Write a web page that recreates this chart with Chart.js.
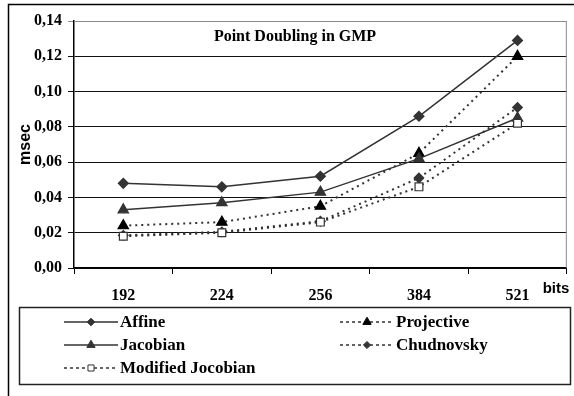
<!DOCTYPE html>
<html>
<head>
<meta charset="utf-8">
<script src="https://cdn.jsdelivr.net/npm/chart.js@4"></script>
<style>
  html, body { margin: 0; padding: 0; background: #fff; }
  #wrap { width: 574px; height: 396px; position: relative; }
</style>
</head>
<body>
<div id="wrap"><canvas id="gmpChart" width="574" height="396"></canvas></div>
<script>
var bitLabels = ["192", "224", "256", "384", "521"];
var affine     = [0.048, 0.046, 0.052, 0.086, 0.129];
var projective = [0.024, 0.026, 0.035, 0.065, 0.120];
var jacobian   = [0.033, 0.037, 0.043, 0.062, 0.085];
var chudnovsky = [0.0185, 0.0205, 0.0265, 0.051, 0.091];
var modJacob   = [0.018, 0.020, 0.026, 0.046, 0.082];

var serifBold = "'Liberation Serif', 'Times New Roman', serif";
var sansBold = "'Liberation Sans', Arial, sans-serif";
var dots = [2, 4];

// frame, plot border, in-plot title, "bits" and the boxed legend
var decor = {
    id: 'decor',
    beforeDraw: function (chart) {
        var c = chart.ctx;
        c.save();
        c.strokeStyle = '#000';
        c.lineWidth = 1.5;
        c.beginPath();
        c.moveTo(8.5, 396);
        c.lineTo(8.5, 4.5);
        c.lineTo(574, 4.5);
        c.stroke();
        c.restore();
    },
    afterDraw: function (chart) {
        var c = chart.ctx, a = chart.chartArea;
        c.save();
        c.strokeStyle = '#8c8c8c';
        c.lineWidth = 1;
        c.beginPath();
        c.moveTo(a.left, a.top + 0.5);
        c.lineTo(a.right - 0.5, a.top + 0.5);
        c.lineTo(a.right - 0.5, a.bottom);
        c.stroke();

        c.fillStyle = '#000';
        c.font = 'bold 16px ' + serifBold;
        c.textAlign = 'center';
        c.textBaseline = 'middle';
        c.fillText('Point Doubling in GMP', 295, 37);

        c.font = 'bold 15px ' + sansBold;
        c.fillText('bits', 556, 289);

        // legend box
        c.strokeStyle = '#222';
        c.lineWidth = 1.5;
        c.strokeRect(19.5, 307.5, 551, 77);

        var cols = [64, 340], rows = [322, 345, 368];
        chart.data.datasets.forEach(function (ds, i) {
            var x0 = cols[i % 2], y = rows[Math.floor(i / 2)];
            c.save();
            c.strokeStyle = ds.borderColor;
            c.lineWidth = 1.5;
            c.setLineDash(ds.solid ? [] : [3, 3]);
            c.beginPath();
            c.moveTo(x0, y);
            c.lineTo(x0 + 54, y);
            c.stroke();
            c.restore();
            c.fillStyle = ds.pointBackgroundColor;
            c.strokeStyle = ds.pointBorderColor;
            c.lineWidth = 1;
            Chart.helpers.drawPoint(c, {
                pointStyle: ds.pointStyle,
                radius: ds.legendRadius,
                rotation: 0,
                borderWidth: 1
            }, x0 + 27, y);
            c.fillStyle = '#000';
            c.font = 'bold 17px ' + serifBold;
            c.textAlign = 'left';
            c.fillText(ds.label, x0 + 56, y + 1);
        });
        c.restore();
    }
};

function series(label, data, solid, style, fill, r, order) {
    return {
        label: label,
        data: data,
        solid: solid,
        order: order,
        borderColor: '#333',
        borderWidth: solid ? 1.5 : 2,
        borderDash: solid ? [] : dots,
        pointStyle: style,
        pointRadius: r,
        legendRadius: r - 1.2,
        pointBackgroundColor: fill,
        pointBorderColor: style === 'rect' ? '#333' : fill,
        pointBorderWidth: 1.2,
        tension: 0,
        fill: false
    };
}

var ctx = document.getElementById('gmpChart').getContext('2d');
var gmpChart = new Chart(ctx, {
    type: 'line',
    data: {
        labels: bitLabels,
        datasets: [
            series('Affine', affine, true, 'rectRot', '#333', 5, 4),
            series('Projective', projective, false, 'triangle', '#000', 6, 3),
            series('Jacobian', jacobian, true, 'triangle', '#333', 6, 2),
            series('Chudnovsky', chudnovsky, false, 'rectRot', '#333', 4.8, 1),
            series('Modified Jocobian', modJacob, false, 'rect', '#fff', 5.5, 0)
        ]
    },
    options: {
        responsive: false,
        animation: false,
        layout: { padding: { left: 0, top: 21, right: 7, bottom: 68 } },
        plugins: {
            legend: { display: false },
            tooltip: { enabled: false }
        },
        scales: {
            x: {
                offset: true,
                afterFit: function (s) { s.height = 60; },
                grid: {
                    offset: true,
                    drawOnChartArea: false,
                    drawTicks: true,
                    tickLength: 6,
                    color: '#000'
                },
                border: { color: '#000', width: 1.5 },
                ticks: {
                    color: '#000',
                    padding: 12,
                    font: { family: serifBold, size: 16, weight: 'bold' }
                }
            },
            y: {
                min: 0,
                max: 0.14,
                afterFit: function (s) { s.width = 74; },
                grid: {
                    tickLength: 6,
                    color: function (c) { return c.tick.value >= 0.139 ? '#8c8c8c' : '#111'; }
                },
                border: { color: '#000', width: 1.5 },
                ticks: {
                    stepSize: 0.02,
                    color: '#000',
                    padding: 6,
                    font: { family: serifBold, size: 16, weight: 'bold' },
                    callback: function (v) { return v.toFixed(2).replace('.', ','); }
                },
                title: {
                    display: true,
                    text: 'msec',
                    color: '#000',
                    padding: { top: 16, bottom: 0 },
                    font: { family: sansBold, size: 16, weight: 'bold' }
                }
            }
        }
    },
    plugins: [decor]
});
</script>
</body>
</html>
